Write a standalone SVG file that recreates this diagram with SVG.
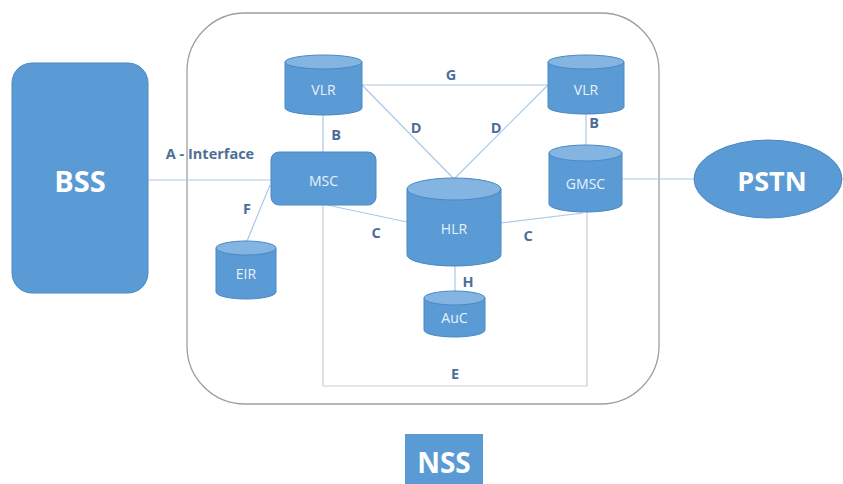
<svg xmlns="http://www.w3.org/2000/svg" width="843" height="484" viewBox="0 0 843 484">
<style>
.body{fill:#5b9bd5;stroke:#4a88c4;stroke-width:1}
.top{fill:#83b4e2;stroke:#4a88c4;stroke-width:1}
.nt{font-family:"Open Sans","Liberation Sans",sans-serif;font-size:14px;fill:#e8f1fb;text-anchor:middle;dominant-baseline:central}
.big{font-family:"Open Sans","Liberation Sans",sans-serif;font-weight:bold;fill:#ffffff;text-anchor:middle;dominant-baseline:central}
.lbl{font-family:"Open Sans","Liberation Sans",sans-serif;font-weight:bold;font-size:14.5px;fill:#4d6f97;text-anchor:middle;dominant-baseline:central}
.con{stroke:#a9c9e8;stroke-width:1.2;fill:none}
</style>
<rect x="187" y="13" width="472" height="391" rx="58" ry="58" fill="none" stroke="#9a9fa6" stroke-width="1.3"/>
<g id="connectors">
<line class="con" x1="148" y1="180" x2="271" y2="180"/>
<line class="con" x1="323" y1="115" x2="323" y2="152"/>
<line class="con" x1="362" y1="85" x2="548" y2="85"/>
<line class="con" x1="362" y1="85" x2="454" y2="179"/>
<line class="con" x1="548" y1="85" x2="454" y2="179"/>
<line class="con" x1="586" y1="114" x2="586" y2="145"/>
<line class="con" x1="622" y1="179" x2="694" y2="179"/>
<line class="con" x1="327" y1="205" x2="407" y2="222"/>
<line class="con" x1="501" y1="223" x2="583" y2="213"/>
<line class="con" x1="270" y1="185" x2="247" y2="241"/>
<line class="con" x1="455" y1="266" x2="455" y2="292"/>
<polyline points="323,205 323,386 587,386 587,212" fill="none" stroke="#c9ced6" stroke-width="1.2"/>
</g>
<g id="BSS">
<rect x="12" y="63" width="136" height="230" rx="20" ry="20" fill="#5b9bd5" stroke="#4a88c4"/>
<text class="big" x="80" y="180" font-size="29">BSS</text>
</g>
<g id="VLR1">
<path class="body" d="M285,62 L285,108 A38.5,7 0 0 0 362,108 L362,62 Z"/>
<ellipse class="top" cx="323.5" cy="62" rx="38.5" ry="7"/>
<text class="nt" x="323.5" y="89">VLR</text>
</g>
<g id="VLR2">
<path class="body" d="M548,62 L548,107 A38,7 0 0 0 624,107 L624,62 Z"/>
<ellipse class="top" cx="586" cy="62" rx="38" ry="7"/>
<text class="nt" x="586" y="89">VLR</text>
</g>
<g id="MSC">
<rect x="271" y="152" width="105" height="53" rx="8" ry="8" fill="#5b9bd5" stroke="#4a88c4"/>
<text class="nt" x="323.5" y="180">MSC</text>
</g>
<g id="GMSC">
<path class="body" d="M549,153 L549,204 A36.5,8 0 0 0 622,204 L622,153 Z"/>
<ellipse class="top" cx="585.5" cy="153" rx="36.5" ry="8"/>
<text class="nt" x="585.5" y="183">GMSC</text>
</g>
<g id="HLR">
<path class="body" d="M407,189 L407,255 A47,11 0 0 0 501,255 L501,189 Z"/>
<ellipse class="top" cx="454" cy="189" rx="47" ry="11"/>
<text class="nt" x="454" y="228">HLR</text>
</g>
<g id="EIR">
<path class="body" d="M216,248 L216,292 A30,7 0 0 0 276,292 L276,248 Z"/>
<ellipse class="top" cx="246" cy="248" rx="30" ry="7"/>
<text class="nt" x="246" y="273">EIR</text>
</g>
<g id="AuC">
<path class="body" d="M424,298 L424,330 A30.5,7 0 0 0 485,330 L485,298 Z"/>
<ellipse class="top" cx="454.5" cy="298" rx="30.5" ry="7"/>
<text class="nt" x="454.5" y="317">AuC</text>
</g>
<g id="PSTN">
<ellipse cx="768" cy="179" rx="74" ry="39" fill="#5b9bd5" stroke="#4a88c4"/>
<text class="big" x="772" y="180" font-size="27">PSTN</text>
</g>
<g id="NSS">
<rect x="405" y="434" width="78" height="52" fill="#5b9bd5"/>
<text class="big" x="444" y="462" font-size="28">NSS</text>
</g>
<g id="labels">
<text class="lbl" x="210" y="153">A - Interface</text>
<text class="lbl" x="336" y="134">B</text>
<text class="lbl" x="451" y="74">G</text>
<text class="lbl" x="416" y="127">D</text>
<text class="lbl" x="496" y="127">D</text>
<text class="lbl" x="594" y="122">B</text>
<text class="lbl" x="247" y="208">F</text>
<text class="lbl" x="376" y="232">C</text>
<text class="lbl" x="528" y="235">C</text>
<text class="lbl" x="468" y="281">H</text>
<text class="lbl" x="455" y="373">E</text>
</g>
</svg>
